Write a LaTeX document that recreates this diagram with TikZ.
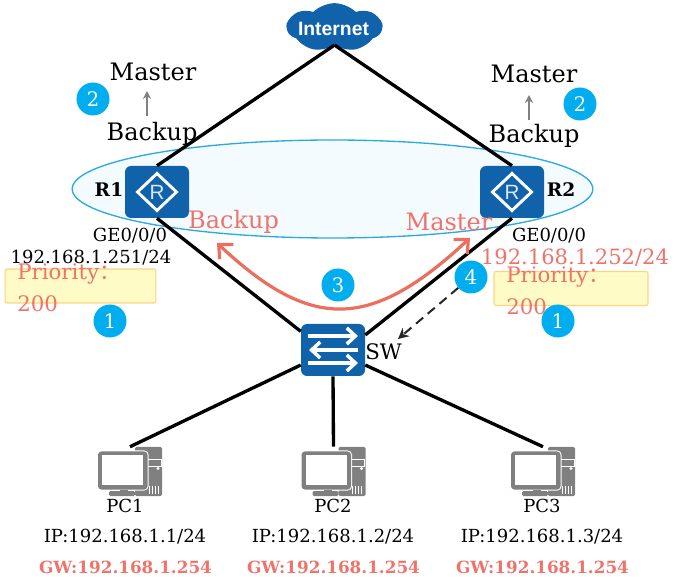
\documentclass[tikz,border=0pt]{standalone}
\usepackage{fontspec}
\setmainfont{DejaVu Serif}
\newfontfamily\iconfont{Liberation Sans}
\newfontfamily\cjk{Noto Sans CJK SC}
\usepackage{xcolor}
\usetikzlibrary{arrows.meta, shapes.symbols, shapes.geometric}
\definecolor{devblue}{RGB}{16,98,170}
\definecolor{ringblue}{RGB}{43,169,224}
\definecolor{ringfill}{RGB}{244,251,255}
\definecolor{softred}{RGB}{240,115,107}
\definecolor{arcred}{RGB}{236,110,94}
\definecolor{stepcyan}{RGB}{0,174,239}
\definecolor{notefill}{RGB}{255,251,199}
\definecolor{noteedge}{RGB}{255,211,127}
\definecolor{pcgrey}{RGB}{128,128,128}
\tikzset{
  link/.style={line width=2.5pt, black},
  devbox/.style={rounded corners=4.5pt, fill=devblue, minimum width=48pt, minimum height=39pt, inner sep=0},
  pcbox/.style={minimum width=48pt, minimum height=36.75pt, inner sep=0},
  stepdot/.style={circle, fill=stepcyan, text=white, minimum size=24.75pt, inner sep=0, font=\fontsize{15}{16}\selectfont},
  notebox/.style={rounded corners=1.5pt, fill=notefill, draw=noteedge, line width=0.8pt, minimum height=25.5pt, inner sep=0},
  big/.style={anchor=base, inner sep=0, font=\fontsize{18}{20}\selectfont},
  small/.style={anchor=base, inner sep=0, font=\fontsize{13.5}{15}\selectfont},
  gwtext/.style={anchor=base, inner sep=0, text=softred, font=\fontsize{12.6}{15}\bfseries\selectfont},
  prio/.style={anchor=base west, inner sep=0, text=softred, font=\fontsize{16}{18}\selectfont},
  upflow/.style={-{Stealth[length=6pt,width=6pt]}, pcgrey, line width=1.5pt},
  routericon/.pic={
    \draw[white, line width=2.2pt] (0,-18.5) -- (19.5,0) -- (0,18.5) -- (-19.5,0) -- cycle;
    \node[text=white!85!devblue, inner sep=0, font=\iconfont\fontsize{15.5}{16}\selectfont] (-r) at (0,0.5) {R};
  },
  switchicon/.pic={
    \draw[white, line width=2.6pt, -{Straight Barb[length=6.5pt,width=12pt]}] (-25,-14) -- (25,-14);
    \draw[white, line width=2.6pt, -{Straight Barb[length=6.5pt,width=12pt]}] (25,0) -- (-24,0);
    \draw[white, line width=2.6pt, -{Straight Barb[length=6.5pt,width=12pt]}] (-25,13) -- (25,13);
  },
  pcicon/.pic={
    \fill[pcgrey, rounded corners=1pt] (5,-24.5) rectangle (32,24.5);
    \draw[white, line width=0.75pt] (17,-12) -- (31,-12) (17,-12) -- (17,-5) -- (31,-5) -- (31,-12);
    \fill[white] (28,-3) circle (1.6);
    \foreach \vx in {19,22,25,28}
      \draw[white, line width=0.6pt] (\vx,14) -- (\vx,22);
    \draw[white, line width=1.5pt, rounded corners=2.5pt] (-32,-20) rectangle (17.5,18);
    \fill[pcgrey, rounded corners=2.5pt] (-32,-20) rectangle (17.5,18);
    \fill[white] (-28,-16) rectangle (13,13.5);
    \fill[pcgrey] (-10,18) rectangle (-2,21);
    \fill[pcgrey, rounded corners=1pt] (-21,19.5) rectangle (5,24.5);
  },
}
\begin{document}
\begin{tikzpicture}[x=0.75pt, y=-0.75pt]
  \useasboundingbox (0,0) rectangle (686,577);
  % VRRP group
  \node[ellipse, draw=ringblue, fill=ringfill, line width=1pt, minimum width=390.5pt, minimum height=73.5pt, inner sep=0] (ring) at (332.5,189) {};
  % Devices
  \node[cloud, cloud puffs=7, cloud puff arc=90, cloud ignores aspect, fill=devblue, minimum width=71pt, minimum height=36.5pt, inner sep=0] (inet) at (334.5,27.5) {};
  \node[text=white, inner sep=0, font=\iconfont\fontsize{14.5}{16}\bfseries\selectfont] (inettext) at (333.5,29) {Internet};
  \node[devbox] (r1) at (157,192) {};
  \node[devbox] (r2) at (512,192) {};
  \node[devbox] (sw) at (333,350) {};
  \node[pcbox] (pc1) at (130,471.5) {};
  \node[pcbox] (pc2) at (333.5,471.5) {};
  \node[pcbox] (pc3) at (543,471.5) {};
  % Links
  \draw[link] (inet.south) -- (r1.north);
  \draw[link] (inet.south) -- (r2.north);
  \draw[link] (r1.south) -- (sw.150);
  \draw[link] (r2.south) -- (sw.25);
  \draw[link] (sw.205) -- (pc1.north);
  \draw[link] (sw.south) -- (pc2.north);
  \draw[link] (sw.-25) -- (pc3.north);
  \pic at (r1) {routericon};
  \pic at (r2) {routericon};
  \pic at (sw) {switchicon};
  \pic at (pc1) {pcicon};
  \pic at (pc2) {pcicon};
  \pic at (pc3) {pcicon};
  % Priority notes
  \node[notebox, minimum width=113pt] (note1) at (80.5,286) {};
  \node[notebox, minimum width=115.5pt] (note2) at (571,288.5) {};
  \node[prio] (prio1) at (17,280) {Priority{\cjk ：}};
  \node[prio] (val1) at (17,312) {200};
  \node[prio] (prio2) at (506,283) {Priority{\cjk ：}};
  \node[prio] (val2) at (506,315) {200};
  % State change
  \node[big] (m1) at (153,81) {Master};
  \node[big] (b1) at (152,141) {Backup};
  \node[big] (m2) at (534,83) {Master};
  \node[big] (b2) at (534,143) {Backup};
  \coordinate (up1a) at (147,116);
  \coordinate (up1b) at (147,91);
  \coordinate (up2a) at (529,120);
  \coordinate (up2b) at (529,95);
  \draw[upflow] (up1a) -- (up1b);
  \draw[upflow] (up2a) -- (up2b);
  % Labels
  \node[anchor=base, inner sep=0, font=\fontsize{14}{15}\bfseries\selectfont] (r1name) at (109,197) {R1};
  \node[anchor=base, inner sep=0, font=\fontsize{14}{15}\bfseries\selectfont] (r2name) at (561,197) {R2};
  \node[anchor=base west, inner sep=0, font=\fontsize{16}{17}\selectfont] (swname) at (365,360) {SW};
  \node[small] (ge1) at (130,242) {GE0/0/0};
  \node[small] (ip1) at (91,264) {192.168.1.251/24};
  \node[small] (ge2) at (549,242) {GE0/0/0};
  \node[anchor=base, inner sep=0, text=softred, font=\fontsize{15.8}{18}\selectfont] (ip2) at (575,265) {192.168.1.252/24};
  \node[big, text=softred] (rb) at (233.5,229) {Backup};
  \node[big, text=softred] (rm) at (449,231) {Master};
  % PCs
  \node[small] (pc1name) at (125,512) {PC1};
  \node[small] (pc2name) at (333,512) {PC2};
  \node[small] (pc3name) at (542,512) {PC3};
  \node[small] (pc1ip) at (125,542) {IP:192.168.1.1/24};
  \node[small] (pc2ip) at (333,542) {IP:192.168.1.2/24};
  \node[small] (pc3ip) at (542,542) {IP:192.168.1.3/24};
  \node[gwtext] (pc1gw) at (125.5,573) {GW:192.168.1.254};
  \node[gwtext] (pc2gw) at (333.5,573) {GW:192.168.1.254};
  \node[gwtext] (pc3gw) at (542.5,573) {GW:192.168.1.254};
  % Failover arc
  \coordinate (arcl) at (217,243);
  \coordinate (arcr) at (470,238);
  \draw[arcred, line width=2.4pt, {Straight Barb[length=8pt,width=15pt]}-{Straight Barb[length=8pt,width=15pt]}] (arcl) .. controls (311,331) and (370,331) .. (arcr);
  % Steps
  \node[stepdot] (s2l) at (93,99) {2};
  \node[stepdot] (s2r) at (580,104) {2};
  \node[stepdot] (s1l) at (110,321) {1};
  \node[stepdot] (s1r) at (558,321) {1};
  \node[stepdot] (s3) at (338,285) {3};
  \node[stepdot] (s4) at (471,277) {4};
  \coordinate (swtip) at (398,339);
  \draw[black!85, line width=1.5pt, dash pattern=on 7pt off 4.5pt, -{Stealth[length=8pt,width=8pt]}] (s4) -- (swtip);
\end{tikzpicture}
\end{document}
